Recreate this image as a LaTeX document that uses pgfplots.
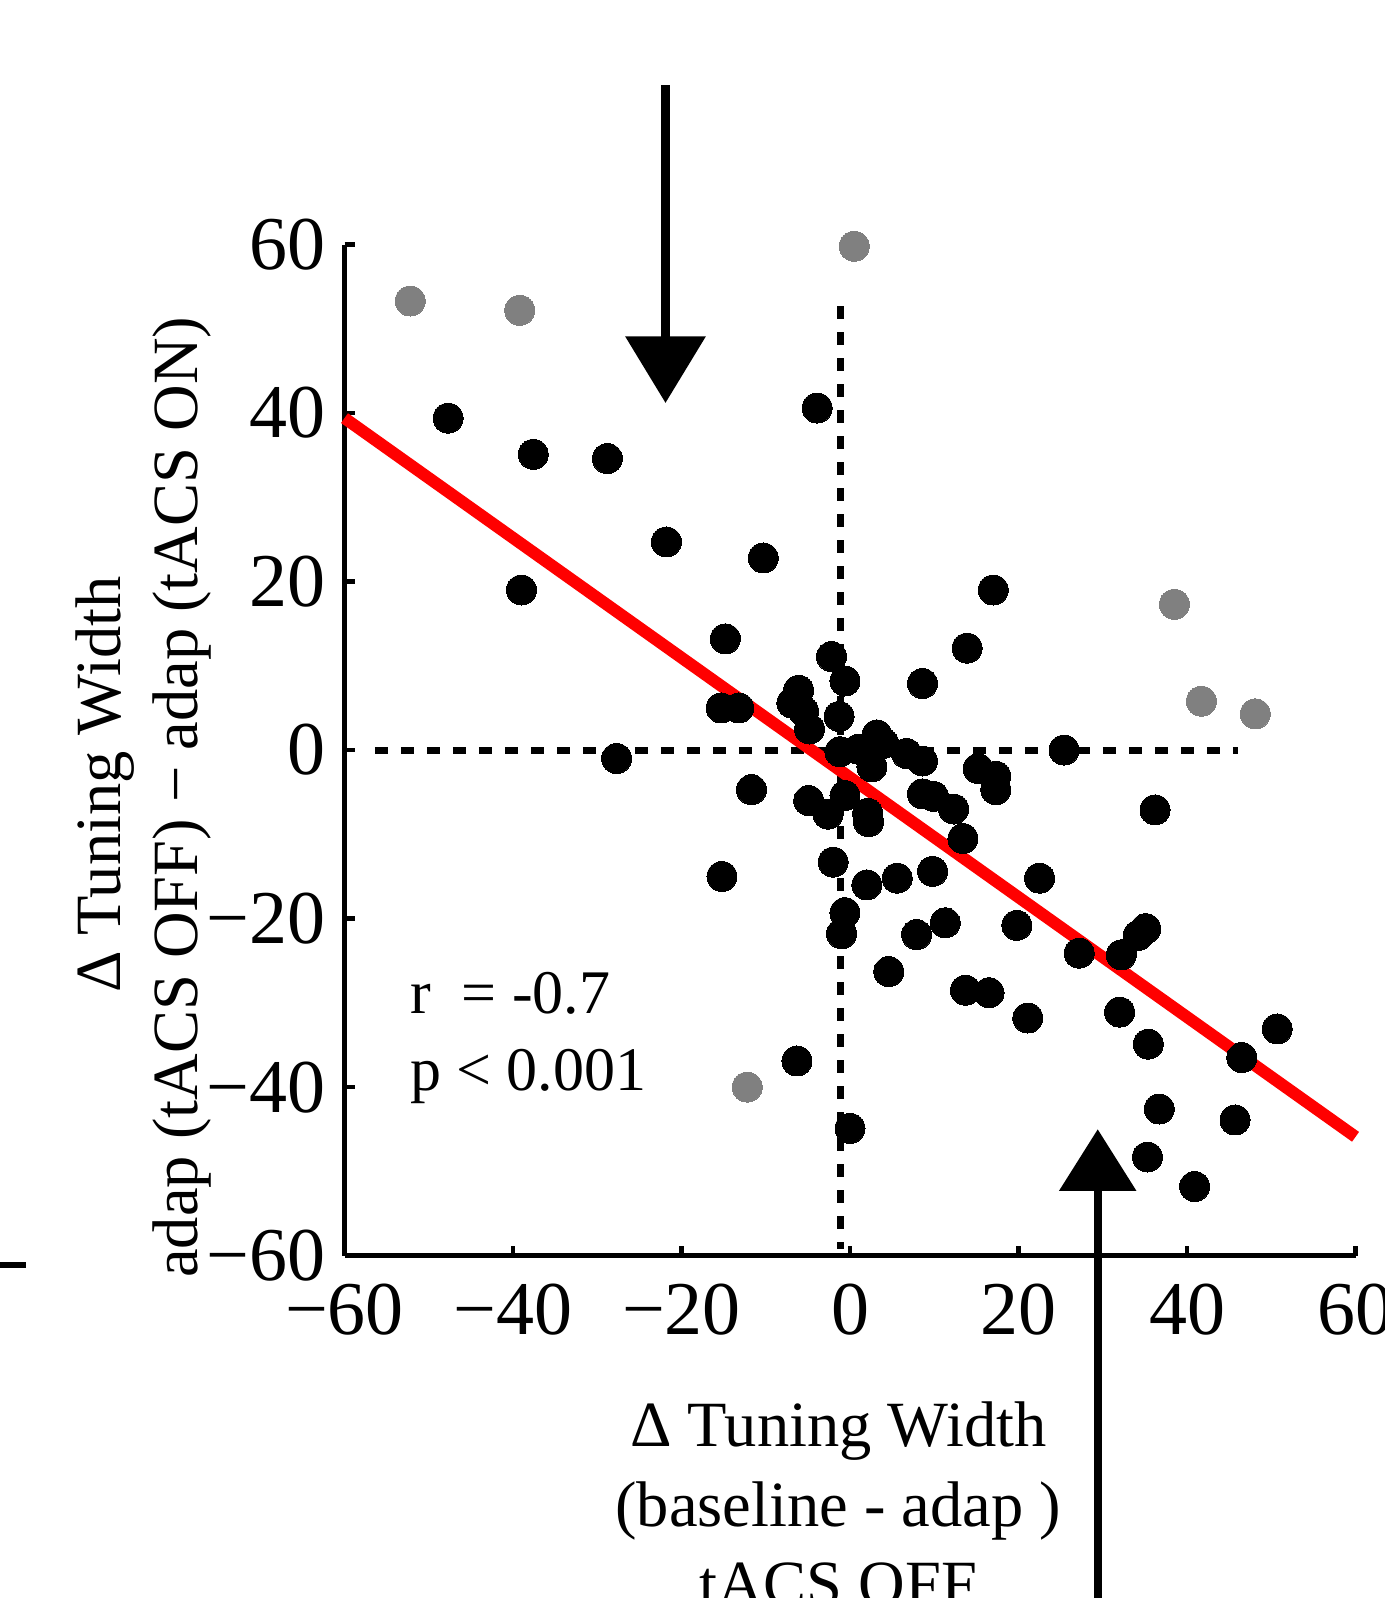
\documentclass[border=0pt]{standalone}
\usepackage{fontspec}
\setmainfont{Liberation Serif}
\usepackage{pgfplots}
\pgfplotsset{compat=1.18}
\usetikzlibrary{arrows.meta}

\pgfplotstableread{
x y
-47.7 39.4
-37.6 35.1
-28.8 34.6
-3.9 40.6
-21.8 24.7
-10.3 22.8
-39.0 19.0
-14.8 13.2
-2.2 11.1
-0.6 8.2
-6.1 7.1
-6.9 5.6
-5.5 4.6
-4.8 2.5
-15.3 5.0
-13.2 5.0
-1.3 4.0
-27.7 -1.0
-11.7 -4.7
-1.2 -0.2
1.0 0.1
3.2 1.8
4.0 0.8
2.6 -2.0
6.7 -0.4
8.6 -1.3
15.2 -2.2
17.3 -3.1
17.3 -4.7
8.6 -5.2
9.9 -5.5
12.3 -7.0
13.4 -10.5
-4.9 -6.0
-2.6 -7.6
-0.6 -5.4
2.1 -7.5
2.2 -8.5
22.5 -15.2
-2.0 -13.3
2.0 -16.0
5.6 -15.2
9.8 -14.4
-15.2 -15.0
-0.6 -19.3
-1.0 -21.8
7.9 -21.9
11.3 -20.5
19.8 -20.8
4.6 -26.3
13.7 -28.5
16.5 -28.8
21.1 -31.8
27.2 -24.1
32.2 -24.3
34.2 -22.0
35.1 -21.2
32.0 -31.1
35.4 -34.9
36.7 -42.6
35.3 -48.3
40.9 -51.8
45.7 -43.9
46.5 -36.5
50.7 -33.1
25.4 0.0
36.2 -7.1
13.9 12.1
8.6 7.9
17.0 19.0
-6.3 -36.9
0.0 -44.9
}\blackpts

\pgfplotstableread{
x y
-52.2 53.3
-39.2 52.2
0.5 59.8
38.5 17.3
41.7 5.8
48.1 4.3
-12.2 -40.0
}\graypts

\begin{document}
\begin{tikzpicture}
\begin{axis}[
  width=303.3pt, height=303.3pt, scale only axis,
  xmin=-60, xmax=60, ymin=-60, ymax=60,
  axis lines=left,
  axis line style={-, line width=1.3pt, black},
  major tick style={line width=1.3pt, black},
  major tick length=3pt,
  tick align=inside,
  xtick={-60,-40,-20,0,20,40,60},
  ytick={-60,-40,-20,0,20,40,60},
  xticklabels={−60,−40,−20,0,20,40,60},
  yticklabels={−60,−40,−20,0,20,40,60},
  tick label style={font=\fontsize{22.8}{26}\selectfont},
  xticklabel style={anchor=base, inner sep=0pt, yshift=-23.7pt},
  yticklabel style={anchor=east, inner sep=0pt, xshift=-5.5pt},
  clip=false,
]

% reference lines at zero
\addplot[black, line width=2.1pt, dash pattern=on 3.8pt off 4pt] coordinates {(-56.4,0) (46.1,0)};
\addplot[black, line width=2.1pt, dash pattern=on 3.8pt off 4pt] coordinates {(-1.1,52.7) (-1.1,-59.2)};

% data
\addplot[gray, only marks, mark=*, mark size=4.5pt, mark options={draw=gray, fill=gray, line width=0pt}] table {\graypts};
\addplot[black, only marks, mark=*, mark size=4.5pt, mark options={draw=black, fill=black, line width=0pt}] table {\blackpts};

% fit
\addplot[red, line width=3.6pt] coordinates {(-60,39.4) (60,-45.9)};

% arrows
\draw[line width=2.5pt, -{Triangle[width=23.6pt, length=20pt]}] (axis cs:-21.9,78.9) -- (axis cs:-21.9,41.2);
\draw[line width=2.5pt, -{Triangle[width=22.6pt, length=18.5pt]}] (axis cs:29.4,-105) -- (axis cs:29.4,-45.0);

% stats
\node[anchor=base west, inner sep=0pt, font=\fontsize{18.6}{22}\selectfont] at (axis cs:-52.3,-31.3) {r\ \ = -0.7};
\node[anchor=base west, inner sep=0pt, font=\fontsize{18.6}{22}\selectfont] at (axis cs:-52.3,-40.4) {p < 0.001};

% axis labels
\node[anchor=base, inner sep=0pt, font=\fontsize{19.35}{23}\selectfont] at (axis cs:-1.4,-82.7) {Δ Tuning Width};
\node[anchor=base, inner sep=0pt, font=\fontsize{19.35}{23}\selectfont] at (axis cs:-1.4,-92.1) {(baseline - adap )};
\node[anchor=base, inner sep=0pt, font=\fontsize{19.35}{23}\selectfont] at (axis cs:-1.4,-101.5) {tACS OFF};
\node[anchor=base, inner sep=0pt, rotate=90, font=\fontsize{19.35}{23}\selectfont] at (axis cs:-86.6,-4.1) {Δ Tuning Width};
\node[anchor=base, inner sep=0pt, rotate=90, font=\fontsize{19.35}{23}\selectfont] at (axis cs:-77.5,-5.6) {adap (tACS OFF) − adap (tACS ON)};

% bit of the neighbouring panel
\draw[line width=1.7pt] (axis cs:-104,-61.1) -- (axis cs:-97.8,-61.1);

\coordinate (bl) at (axis cs:-100.89,-100.64);
\coordinate (tr) at (axis cs:63.38,89.03);
\end{axis}
\pgfresetboundingbox
\useasboundingbox (bl) rectangle (tr);
\end{tikzpicture}
\end{document}
